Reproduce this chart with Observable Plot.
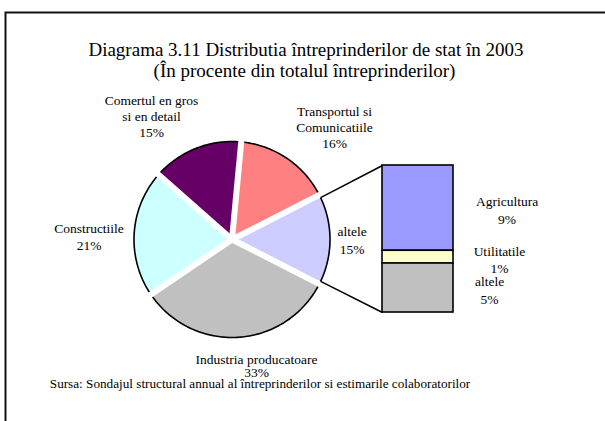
<!DOCTYPE html>
<html><head><meta charset="utf-8">
<script src="https://cdn.jsdelivr.net/npm/d3@7"></script>
<script src="https://cdn.jsdelivr.net/npm/@observablehq/plot@0.6"></script>
<style>
body{margin:0;overflow:hidden;background:#fff}
#chart{position:absolute;left:0;top:0}
</style>
</head><body><div id="chart"></div>
<script>
// ---- texts ----
const title = "Diagrama 3.11 Distributia întreprinderilor de stat în 2003";
const subtitle = "(În procente din totalul întreprinderilor)";
const source = "Sursa: Sondajul structural annual al întreprinderilor si estimarile colaboratorilor";

// ---- main pie (clockwise, starting with the grouped "altele" slice on the right) ----
const pieCategories = ["altele", "Industria producatoare", "Constructiile", "Comertul en gros\nsi en detail", "Transportul si\nComunicatiile"];
const pieValues = [15, 33, 21, 15, 16];
const pieColors = ["#CCCCFF", "#C0C0C0", "#CCFFFF", "#660066", "#FF8080"];

// ---- breakdown of "altele" (top to bottom) ----
const barCategories = ["Agricultura", "Utilitatile", "altele"];
const barValues = [8.7, 1.3, 5.0];
const barColors = ["#9999FF", "#FFFFCC", "#C0C0C0"];

// ---- layout ----
const W = 605, H = 421;
const cx = 231.5, cy = 239, R = 98, GAP = 6;
const barBox = {x1: 382, x2: 453, top: 165, bottom: 312};
const pieLabelPos = [[351.5, 235, 18], [256, 363, 13.7], [88.5, 232.3, 17], [151, 104, 16.4], [334, 115, 16.4]];
const barLabelPos = [[506.5, 205, 18], [499, 255, 17.7], [489, 285, 18.3]];
const FONT = "'Liberation Serif', 'Times New Roman', Times, serif";

const total = d3.sum(pieValues);
const toAngle = v => (pieValues[0] / 2 - v) / total * 2 * Math.PI; // math angle, ccw positive
const pt = (a, r) => [cx + r * Math.cos(a), cy - r * Math.sin(a)];

const slicePts = [], arcPts = [], bounds = [];
let cum = 0;
pieValues.forEach((v, i) => {
  const a0 = toAngle(cum), a1 = toAngle(cum + v);
  bounds.push(a0);
  const n = Math.max(2, Math.ceil(Math.abs(a1 - a0) / (Math.PI / 180)));
  const [x0, y0] = pt(0, 0);
  slicePts.push({k: i, x: x0, y: y0, color: pieColors[i]});
  for (let j = 0; j <= n; j++) {
    const a = a0 + (a1 - a0) * j / n;
    const [x, y] = pt(a, R);
    slicePts.push({k: i, x, y, color: pieColors[i]});
    arcPts.push({k: i, x, y});
  }
  cum += v;
});
const sepLinks = bounds.map(a => {
  const [x1, y1] = pt(a, 0), [x2, y2] = pt(a, R + 4);
  return {x1, y1, x2, y2};
});

// stacked bar, values mapped to the bar box by a linear scale
const barTotal = d3.sum(barValues);
const ys = d3.scaleLinear().domain([0, barTotal]).range([barBox.top, barBox.bottom]);
let bc = 0;
const barRows = barValues.map((v, i) => {
  const r = {x1: barBox.x1, x2: barBox.x2, y1: ys(bc), y2: ys(bc + v), color: barColors[i]};
  bc += v; return r;
});

// connectors from the "altele" slice corners to the bar
const off = Math.asin(GAP / 2 / R);
const [ux, uy] = pt(toAngle(0) - off, R);
const [lx, ly] = pt(toAngle(pieValues[0]) + off, R);
const connectors = [
  {x1: ux, y1: uy, x2: barBox.x1, y2: ys(0)},
  {x1: lx, y1: ly, x2: barBox.x1, y2: ys(barTotal)}
];

// label lines
const labelLines = [];
pieCategories.forEach((c, i) => {
  const [x, y, lh] = pieLabelPos[i];
  const lines = c.split("\n").concat([Math.round(pieValues[i]) + "%"]);
  lines.forEach((t, j) => labelLines.push({x, y: y + j * lh, t}));
});
barCategories.forEach((c, i) => {
  const [x, y, lh] = barLabelPos[i];
  const lines = c.split("\n").concat([Math.round(barValues[i]) + "%"]);
  lines.forEach((t, j) => labelLines.push({x, y: y + j * lh, t}));
});

const chart = Plot.plot({
  width: W, height: H,
  margin: 0,
  x: {type: "identity", axis: null},
  y: {type: "identity", axis: null},
  color: {type: "identity"},
  style: {background: "#fff", overflow: "hidden", fontFamily: FONT},
  marks: [
    Plot.frame({stroke: "#111", strokeWidth: 2, insetLeft: 5, insetTop: 12, insetRight: -20, insetBottom: -20}),
    Plot.line(slicePts, {x: "x", y: "y", z: "k", fill: "color", stroke: "none"}),
    Plot.line(arcPts, {x: "x", y: "y", z: "k", stroke: "#000", strokeWidth: 1.6}),
    Plot.link(sepLinks, {x1: "x1", y1: "y1", x2: "x2", y2: "y2", stroke: "#fff", strokeWidth: GAP, strokeLinecap: "butt"}),
    Plot.link(connectors, {x1: "x1", y1: "y1", x2: "x2", y2: "y2", stroke: "#000", strokeWidth: 1.5}),
    Plot.rect(barRows, {x1: "x1", x2: "x2", y1: "y1", y2: "y2", fill: "color", stroke: "#000", strokeWidth: 1.6}),
    Plot.text(labelLines, {x: "x", y: "y", text: "t", textAnchor: "middle", lineAnchor: "bottom", fontSize: 13.5, fontFamily: FONT, fill: "#000"}),
    Plot.text([title], {x: () => 305.5, y: () => 55.7, text: d => d, textAnchor: "middle", lineAnchor: "bottom", fontSize: 19, fontFamily: FONT, fill: "#000"}),
    Plot.text([subtitle], {x: () => 304, y: () => 76.7, text: d => d, textAnchor: "middle", lineAnchor: "bottom", fontSize: 19, fontFamily: FONT, fill: "#000"}),
    Plot.text([source], {x: () => 49.3, y: () => 387, text: d => d, textAnchor: "start", lineAnchor: "bottom", fontSize: 13.2, fontFamily: FONT, fill: "#000"})
  ]
});
document.getElementById("chart").appendChild(chart);
</script>
</body></html>
